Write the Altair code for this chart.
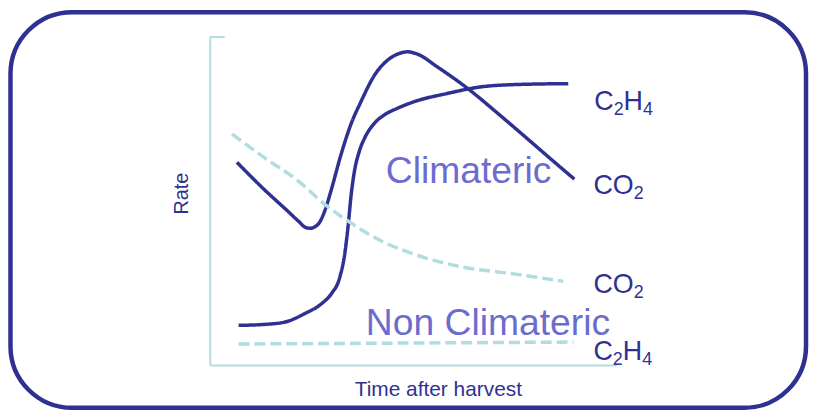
import altair as alt
import pandas as pd

DARK = "#2e3192"
TEAL = "#b2dcdd"
PURPLE = "#6c6ccf"
FONT = "Liberation Sans, Arial, sans-serif"

# Climacteric CO2 (solid)
clim_co2_x = [6.7, 13.0, 19.3, 21.8, 23.7, 24.7, 26.7, 28.3, 29.8, 32.3, 34.7, 37.2, 40.6, 43.8, 46.2, 48.7, 51.1, 56.0, 63.9, 70.9, 78.9, 82.9, 89.7]
clim_co2_y = [61.8, 54.0, 46.8, 43.9, 41.9, 41.7, 43.0, 47.0, 53.0, 64.2, 73.3, 80.3, 88.5, 93.0, 94.8, 95.5, 94.8, 90.9, 83.9, 76.7, 68.2, 63.9, 56.7]

# Climacteric C2H4 (solid)
clim_c2h4_x = [7.1, 13.6, 18.5, 23.4, 27.5, 29.9, 32.0, 33.2, 34.0, 34.8, 35.6, 36.8, 38.1, 40.5, 43.0, 46.2, 50.3, 58.4, 66.6, 74.7, 88.2]
clim_c2h4_y = [12.1, 12.4, 13.1, 15.7, 18.7, 21.7, 26.8, 33.8, 41.9, 52.0, 59.1, 65.2, 69.2, 73.7, 76.3, 78.3, 80.3, 82.8, 84.8, 85.5, 85.8]

# Non climacteric CO2 (dashed)
non_co2_x = [5.5, 13.6, 21.8, 28.3, 34.0, 42.1, 50.3, 62.5, 74.7, 87.0]
non_co2_y = [70.4, 63.1, 56.1, 49.0, 43.9, 37.9, 33.8, 29.8, 27.8, 25.5]

# Non climacteric C2H4 (dashed)
non_c2h4_x = [7.1, 89.5]
non_c2h4_y = [6.4, 7.0]

series_names = ["clim_co2", "clim_c2h4", "non_co2", "non_c2h4"]
series_colors = [DARK, DARK, TEAL, TEAL]
series_dash = [[1, 0], [1, 0], [11, 5], [11, 5]]

# End labels
label_text = ["C₂H₄", "CO₂", "CO₂", "C₂H₄"]
label_x = [94.6, 94.4, 94.4, 94.4]
label_y = [77.9, 52.1, 22.1, 1.5]

# Region titles
region_text = ["Climateric", "Non Climateric"]
region_x = [43.3, 38.4]
region_y = [55.5, 9.1]

# ---- layout helpers (pixels per data unit) ----
PX_X = 409 / 100.0
PX_Y = 330 / 100.0
MAIN_SIZE = 27
SUB_SIZE = 18
SUB_DROP = 5
WIDTHS = {"C": 0.722, "O": 0.778, "H": 0.722, "2": 0.556, "4": 0.556}
SUBS = {"₂": "2", "₄": "4"}

main_rows, sub_rows = [], []
for txt, lx, ly in zip(label_text, label_x, label_y):
    off = 0.0
    for ch in txt:
        if ch in SUBS:
            d = SUBS[ch]
            sub_rows.append({"t": lx + off / PX_X, "rate": ly - SUB_DROP / PX_Y, "txt": d})
            off += WIDTHS[d] * SUB_SIZE
        else:
            main_rows.append({"t": lx + off / PX_X, "rate": ly, "txt": ch})
            off += WIDTHS[ch] * MAIN_SIZE

rows = []
for name, xs, ys in [
    ("clim_co2", clim_co2_x, clim_co2_y),
    ("clim_c2h4", clim_c2h4_x, clim_c2h4_y),
    ("non_co2", non_co2_x, non_co2_y),
    ("non_c2h4", non_c2h4_x, non_c2h4_y),
]:
    for xv, yv in zip(xs, ys):
        rows.append({"series": name, "t": xv, "rate": yv})
lines_df = pd.DataFrame(rows)

xscale = alt.Scale(domain=[0, 100], nice=False, zero=False)
yscale = alt.Scale(domain=[0, 100], nice=False, zero=False)

xaxis = alt.Axis(
    title="Time after harvest", labels=False, ticks=False, grid=False,
    domainColor=TEAL, domainWidth=2, titleFont=FONT, titleFontSize=21,
    titleFontWeight="normal", titleColor=DARK, titlePadding=14, titleX=229.5,
)
yaxis = alt.Axis(
    title="Rate", labels=False, ticks=False, grid=False,
    domainColor=TEAL, domainWidth=2, titleFont=FONT, titleFontSize=20,
    titleFontWeight="normal", titleColor=DARK, titlePadding=18, titleY=157,
)

frame = alt.Chart(pd.DataFrame({"a": [0]})).mark_rect(
    fillOpacity=0, stroke=DARK, strokeWidth=4.5, cornerRadius=62
).encode(
    x=alt.value(-200.5), x2=alt.value(600), y=alt.value(-25), y2=alt.value(373)
)

lines = alt.Chart(lines_df).mark_line(interpolate="monotone", strokeWidth=3.5).encode(
    x=alt.X("t:Q", scale=xscale, axis=xaxis),
    y=alt.Y("rate:Q", scale=yscale, axis=yaxis),
    color=alt.Color("series:N", scale=alt.Scale(domain=series_names, range=series_colors), legend=None),
    strokeDash=alt.StrokeDash("series:N", scale=alt.Scale(domain=series_names, range=series_dash), legend=None),
)

toptick = alt.Chart(pd.DataFrame({"a": [0]})).mark_rule(color=TEAL, strokeWidth=2).encode(
    y=alt.datum(100), x=alt.value(0), x2=alt.value(15)
)

labels_main = alt.Chart(pd.DataFrame(main_rows)).mark_text(
    align="left", baseline="alphabetic", font=FONT, fontSize=MAIN_SIZE, color=DARK
).encode(x=alt.X("t:Q", scale=xscale), y=alt.Y("rate:Q", scale=yscale), text="txt:N")

labels_sub = alt.Chart(pd.DataFrame(sub_rows)).mark_text(
    align="left", baseline="alphabetic", font=FONT, fontSize=SUB_SIZE, color=DARK
).encode(x=alt.X("t:Q", scale=xscale), y=alt.Y("rate:Q", scale=yscale), text="txt:N")

regions = alt.Chart(pd.DataFrame({"t": region_x, "rate": region_y, "txt": region_text})).mark_text(
    align="left", baseline="alphabetic", font=FONT, fontSize=37.5, color=PURPLE
).encode(x=alt.X("t:Q", scale=xscale), y=alt.Y("rate:Q", scale=yscale), text="txt:N")

chart = alt.layer(frame, toptick, lines, regions, labels_main, labels_sub).properties(
    width=409, height=330, padding=0
).configure_view(strokeWidth=0)

chart.save("out.html", embed_options={"renderer": "svg", "actions": False})
